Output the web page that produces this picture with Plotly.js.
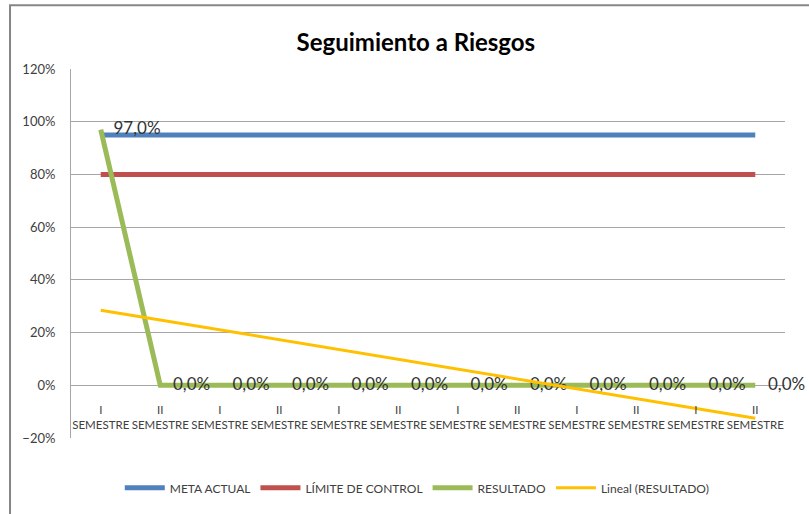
<!DOCTYPE html>
<html>
<head>
<meta charset="utf-8">
<script src="https://cdn.plot.ly/plotly-3.0.1.min.js"></script>
<style>html,body{margin:0;padding:0;background:#fff;}#chart{width:809px;height:514px;}</style>
</head>
<body>
<div id="chart"></div>
<script>
const periodLabels = ["I<br>SEMESTRE","II<br>SEMESTRE","I<br>SEMESTRE","II<br>SEMESTRE","I<br>SEMESTRE","II<br>SEMESTRE","I<br>SEMESTRE","II<br>SEMESTRE","I<br>SEMESTRE","II<br>SEMESTRE","I<br>SEMESTRE","II<br>SEMESTRE"];
const periodIndex = [0,1,2,3,4,5,6,7,8,9,10,11];
const metaActual = [0.95,0.95,0.95,0.95,0.95,0.95,0.95,0.95,0.95,0.95,0.95,0.95];
const limiteControl = [0.80,0.80,0.80,0.80,0.80,0.80,0.80,0.80,0.80,0.80,0.80,0.80];
const resultado = [0.97,0,0,0,0,0,0,0,0,0,0,0];
const tendenciaX = [0, 11];
const tendenciaY = [0.285, -0.125];
const yTicks = [-0.2,0,0.2,0.4,0.6,0.8,1.0,1.2];

const baseFont = "Lato, 'Liberation Sans', Arial, sans-serif";

const traces = [
  {x: periodIndex, y: metaActual, name: "META ACTUAL", mode: "lines",
   line: {color: "#4F81BD", width: 5}},
  {x: periodIndex, y: limiteControl, name: "LÍMITE DE CONTROL", mode: "lines",
   line: {color: "#C0504D", width: 5}},
  {x: periodIndex, y: resultado, name: "RESULTADO", mode: "lines+text",
   line: {color: "#9BBB59", width: 5},
   texttemplate: "\u2003%{y:.1%}", textposition: "middle right",
   textfont: {family: baseFont, size: 17, color: "#333333"}, cliponaxis: false},
  {x: tendenciaX, y: tendenciaY, name: "Lineal (RESULTADO)", mode: "lines",
   line: {color: "#FFC000", width: 3}}
];

const layout = {
  width: 809, height: 514,
  margin: {l: 71, r: 24, t: 69, b: 74},
  paper_bgcolor: "#fff", plot_bgcolor: "#fff",
  separators: ",.",
  font: {family: baseFont, color: "#404040"},
  title: {text: "<b>Seguimiento a Riesgos</b>", font: {family: baseFont, size: 24, color: "#000"},
          x: 0.483, xref: "paper", xanchor: "center", y: 0.918, yanchor: "middle"},
  xaxis: {range: [-0.5, 11.5], tickvals: periodIndex, ticktext: periodLabels,
          showgrid: false, zeroline: false, showline: false,
          anchor: "free", position: 0.2/1.4, tickangle: 0,
          ticks: "outside", ticklen: 14, tickcolor: "rgba(0,0,0,0)",
          tickfont: {size: 11.5, color: "#404040"}},
  yaxis: {range: [-0.2, 1.2], tickvals: yTicks, tickformat: ".0%",
          showgrid: true, gridcolor: "#a6a6a6", gridwidth: 1,
          zeroline: true, zerolinecolor: "#a6a6a6", zerolinewidth: 1,
          showline: true, linecolor: "#a6a6a6", linewidth: 1,
          ticks: "", ticklabelstandoff: 12,
          tickfont: {size: 13, color: "#404040"}},
  legend: {orientation: "h", x: 0.485, xanchor: "center", y: -0.135, yanchor: "middle",
           font: {size: 12, color: "#404040"}, itemwidth: 40, traceorder: "normal"},
  showlegend: true,
  shapes: [{type: "rect", xref: "paper", yref: "paper", x0: -0.0854, x1: 1.2, y0: -0.5, y1: 1.1725,
            line: {color: "#868686", width: 2}, fillcolor: "rgba(0,0,0,0)", layer: "below"}]
};

Plotly.newPlot("chart", traces, layout, {displayModeBar: false, staticPlot: true});
</script>
</body>
</html>
